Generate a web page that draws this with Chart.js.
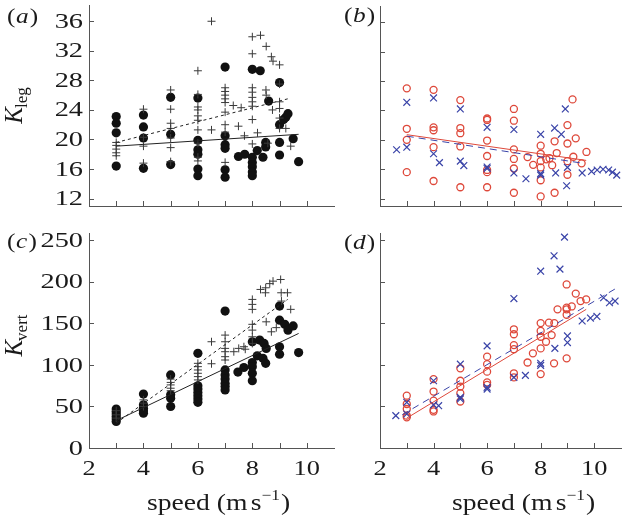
<!DOCTYPE html>
<html>
<head>
<meta charset="utf-8">
<script src="https://cdn.jsdelivr.net/npm/chart.js@4/dist/chart.umd.min.js"></script>
<style>
  body { margin: 0; background: #fff; }
  #wrap { position: relative; width: 627px; height: 517px; }
  #wrap canvas { position: absolute; left: 0; top: 0; }
</style>
</head>
<body>
<div id="wrap">
  <canvas id="panel-a" width="627" height="517"></canvas>
  <canvas id="panel-b" width="627" height="517"></canvas>
  <canvas id="panel-c" width="627" height="517"></canvas>
  <canvas id="panel-d" width="627" height="517"></canvas>
</div>
<script>
// tick values
const speedTicks = [2, 3, 4, 5, 6, 7, 8, 9, 10];
const speedLabels = [2, 4, 6, 8, 10];
const legTicks = [12, 16, 20, 24, 28, 32, 36];
const vertTicks = [0, 50, 100, 150, 200, 250];

// (a) K_leg, filled circles and plus markers
const aDotX = [3,3,3,3, 4,4,4,4, 5,5,5, 6,6,6,6,6,6, 7,7,7,7,7,7, 7.49,7.72, 8,8,8,8,8,8, 8.29,8.18,8.39,8.49,8.49,8.6, 9,9,9,9, 9.15,9.23,9.31, 9.5,9.7];
const aDotY = [23.1,22.2,20.9,16.4, 23.3,21.7,20.2,16.1, 25.7,20.7,16.6, 25.6,19.9,18.6,18.0,16.0,15.1, 29.8,20.5,19.3,18.8,15.9,14.9, 17.7,18.0, 29.5,17.6,16.9,16.3,15.6,15.1, 29.3,18.5,17.6,19.6,19.0,25.2, 27.7,22.0,19.6,17.9, 22.7,23.0,23.5, 20.1,17.0];
const aPlusX = [3,3,3,3,3, 4,4,4,4, 5,5,5,5,5,5,5, 6,6,6,6,6,6,6,6,6,6, 6.5,6.5, 7,7,7,7,7,7,7,7,7, 7.3,7.59,7.49,7.71,8.19, 8,8,8,8,8,8,8,8,8, 8.3,8.51,8.7,8.76,9.0,8.5,8.51,8.74, 9,9,9,9,9, 9.23,9.41,8.57];
const aPlusY = [19.6,19.2,18.7,18.2,17.8, 24.1,20.3,19.1,16.8, 26.7,24.1,22.2,21.5,20.2,18.9,17.0, 29.3,26.1,24.4,24.0,23.2,22.6,21.3,19.5,17.6,17.1, 36.0,21.3, 27.0,26.5,26.0,25.5,25.0,23.7,22.0,21.0,16.9, 24.6,24.3,21.8,20.5,20.9, 33.9,31.6,27.0,26.4,25.7,25.1,24.5,22.7,19.4, 34.1,32.6,31.2,30.6,30.1,26.7,26.0,24.0, 27.5,25.1,24.2,22.9,21.5, 21.5,19.1,19.5];
const aFitDotX = [3, 9.7];
const aFitDotY = [19.1, 20.7];
const aFitPlusX = [3, 9.3];
const aFitPlusY = [19.6, 25.5];

// (b) K_leg, red circles and blue crosses
const bCircX = [3,3,3,3, 4,4,4,4,4, 5,5,5,5,5, 6,6,6,6,6,6,6, 7,7,7,7,7,7, 7.51,7.72, 8,8,8,8,8,8, 8.21,8.33,8.43,8.52,8.52,8.6, 9,9,9,9, 9.19,9.22,9.31,9.53,9.71];
const bCircY = [27.0,21.5,20.0,15.6, 26.8,21.7,21.3,19.0,14.4, 25.4,21.6,20.9,19.1,13.55, 22.9,22.7,19.9,17.8,15.9,15.6,13.55, 24.2,22.6,18.7,17.4,16.1,12.8, 17.65,16.6, 19.2,18.1,17.1,16.25,14.5,12.3, 17.35,17.5,16.55,19.8,12.8,18.2, 22.0,19.5,17.1,15.25, 25.5,17.7,20.2,16.8,18.35];
const bCrossX = [2.62, 3,3, 4,4, 4.22, 5,5, 5.13, 6,6,6, 7,7, 7.45, 8,8,8, 8.52,8.77,8.56,8.92,8.97,9.0, 9.55,9.9,10.11,10.33,10.54,10.68,10.84];
const bCrossY = [18.65, 25.1,19.0, 25.7,18.1, 16.9, 24.2,17.1, 16.5, 21.7,16.3,16.1, 21.4,15.5, 14.7, 20.75,15.4,15.2, 21.6,20.75,15.5,24.2,13.75,16.25, 15.5,15.7,15.9,16.0,15.9,15.6,15.2];
const bFitCircX = [3, 9.7];
const bFitCircY = [20.7, 17.2];
const bFitCrossX = [3, 9.6];
const bFitCrossY = [20.5, 16.8];

// (c) K_vert, filled circles and plus markers
const cDotX = [3,3,3,3,3,3, 4,4,4,4,4, 5,5,5,5, 6,6,6,6,6,6,6, 7,7,7,7,7,7,7, 7.47,7.69, 8,8,8,8,8, 8.27,8.18,8.43,8.51,8.39,8.49, 9,9,9,9, 9.19,9.31,9.5,9.7];
const cDotY = [47,44,41,38,35,32, 65,52,48,45,42, 88,64,60,50, 114,75,71,67,63,59,55, 165,94,88,83,78,74,70, 91.5,97, 128,103,98,90,81, 130,111,126,120,108,102, 171,154,122,113, 149,142,147,115];
const cPlusX = [3,3,3, 4,4,4, 5,5,5,5,5, 6,6,6,6,6,6, 6.5,6.5, 7,7,7,7,7,7, 7.32,7.5,7.69,7.74, 8,8,8,8,8,8,8, 8.3,8.48,8.64,8.76,9.04,8.49,9.06,9.29,9.41,8.88,8.7,8.51,9.07];
const cPlusY = [45,40,36, 58,54,50, 83,79,76,72,69, 102,98,94,90,86,82, 128,101.5, 136,128,120,116,110,106, 116,120,122,119, 179,173,167,149,142,134,126, 191,187,198,201,203,193,187,187,167,145,140,152,177];
const cFitDotX = [3, 9.7];
const cFitDotY = [33, 138];
const cFitPlusX = [3, 9.3];
const cFitPlusY = [30, 179];

// (d) K_vert, red circles and blue crosses
const dCircX = [3,3,3,3,3, 4,4,4,4,4, 5,5,5,5,5, 6,6,6,6,6, 7,7,7,7,7,7, 7.51,7.71, 8,8,8,8,8, 8.2,8.31,8.41,8.51,8.5,8.63, 8.97,8.97,8.97,8.97,8.97, 9.16,9.31,9.49,9.7];
const dCircY = [63,53,47,39,37, 83,68,57,46,44, 96,81,74,66,56, 110,101,92,79,76, 143,137,124,119,90,85, 103,114, 150.5,141,134,120,89, 128,151,136,150.5,102,167, 197,169,167,160.5,108, 170.5,186,177,179];
const dCrossX = [2.59, 3,3, 4,4, 4.19, 5,5,5, 6,6,6, 7,7, 7.43, 8,8,8, 8.5,8.72,8.53,8.89, 9,9, 9.55,9.86,10.1,10.35,10.57,10.78];
const dCrossY = [39, 55,41, 81,52, 51, 101,61,59, 123,73,71, 180,85, 87.5, 213,102,99.5, 231.5,215.5,120,254, 135,127, 153,156.5,158.5,181,175,177];
const dFitCircX = [3, 9.7];
const dFitCircY = [36, 167];
const dFitCrossX = [2.83, 10.8];
const dFitCrossY = [40, 192];

const SERIF = '"Liberation Serif", "Times New Roman", serif';
const RED = 'rgb(222, 72, 58)';
const BLUE = 'rgb(58, 68, 168)';

function pts(xs, ys) {
  return xs.map((x, i) => ({ x: x, y: ys[i] }));
}

function dots(xs, ys) {
  return { data: pts(xs, ys), pointStyle: 'circle', pointRadius: 4.6, backgroundColor: '#111', borderColor: '#111', borderWidth: 0 };
}
function pluses(xs, ys) {
  return { data: pts(xs, ys), pointStyle: 'cross', pointRadius: 4, borderColor: '#3a3a3a', borderWidth: 1 };
}
function rings(xs, ys) {
  return { data: pts(xs, ys), pointStyle: 'circle', pointRadius: 3.5, backgroundColor: 'rgba(0,0,0,0)', borderColor: RED, borderWidth: 1.3 };
}
function crosses(xs, ys) {
  return { data: pts(xs, ys), pointStyle: 'crossRot', pointRadius: 4.8, borderColor: BLUE, borderWidth: 1.2 };
}
function fit(xs, ys, color, dash) {
  return { data: pts(xs, ys), showLine: true, pointRadius: 0, borderColor: color, borderWidth: 1, borderDash: dash };
}

// draws horizontally stretched text (the figure is a bit wider than tall)
function wideText(ctx, text, x, y, font, sx, align, baseline) {
  ctx.save();
  ctx.translate(x, y);
  ctx.scale(sx, 1);
  ctx.font = font;
  ctx.textAlign = align;
  ctx.textBaseline = baseline;
  ctx.fillText(text, 0, 0);
  ctx.restore();
}

function panelLabel(ctx, letter, x, y) {
  ctx.save();
  ctx.translate(x, y);
  ctx.scale(1.15, 1);
  ctx.textBaseline = 'alphabetic';
  ctx.textAlign = 'left';
  ctx.font = '22px ' + SERIF;
  const w = ctx.measureText('(').width;
  ctx.fillText('(', 0, 0);
  ctx.font = 'italic 22px ' + SERIF;
  const w2 = ctx.measureText(letter).width;
  ctx.fillText(letter, w + 0.5, 0);
  ctx.font = '22px ' + SERIF;
  ctx.fillText(')', w + w2 + 1.5, 0);
  ctx.restore();
}

function yTitle(ctx, main, sub, x, cy) {
  ctx.save();
  ctx.translate(x, cy);
  ctx.rotate(-Math.PI / 2);
  ctx.textBaseline = 'alphabetic';
  ctx.textAlign = 'left';
  ctx.font = 'italic 25px ' + SERIF;
  const w1 = ctx.measureText(main).width;
  ctx.font = '17px ' + SERIF;
  const w2 = ctx.measureText(sub).width;
  const start = -(w1 + w2) / 2;
  ctx.font = 'italic 25px ' + SERIF;
  ctx.fillText(main, start, 0);
  ctx.font = '17px ' + SERIF;
  ctx.fillText(sub, start + w1 - 1, 5);
  ctx.restore();
}

function speedTitle(ctx, x, y) {
  ctx.save();
  ctx.translate(x, y);
  ctx.scale(1.15, 1);
  ctx.textBaseline = 'alphabetic';
  ctx.textAlign = 'left';
  let cx = 0;
  ctx.font = '24px ' + SERIF;
  ctx.fillText('speed (m', cx, 0);
  cx += ctx.measureText('speed (m').width + 3;
  ctx.fillText('s', cx, 0);
  cx += ctx.measureText('s').width;
  ctx.font = '15px ' + SERIF;
  ctx.fillText('\u22121', cx, -10);
  cx += ctx.measureText('\u22121').width + 1;
  ctx.font = '24px ' + SERIF;
  ctx.fillText(')', cx, 0);
  ctx.restore();
}

// inward ticks, tick labels and titles, all placed through the chart scales
const decoPlugin = {
  id: 'deco',
  afterDraw(chart, args, opts) {
    const ctx = chart.ctx;
    const xs = chart.scales.x;
    const ys = chart.scales.y;
    const area = chart.chartArea;
    ctx.save();
    ctx.strokeStyle = '#555';
    ctx.lineWidth = 1;
    ctx.beginPath();
    speedTicks.forEach(v => {
      const px = Math.round(xs.getPixelForValue(v)) + 0.5;
      ctx.moveTo(px, area.bottom);
      ctx.lineTo(px, area.bottom - 5);
    });
    opts.yTicks.forEach(v => {
      const py = Math.round(ys.getPixelForValue(v)) + 0.5;
      ctx.moveTo(area.left, py);
      ctx.lineTo(area.left + 5, py);
    });
    ctx.stroke();

    ctx.fillStyle = '#1a1a1a';
    if (opts.yLabels) {
      opts.yTicks.forEach(v => {
        wideText(ctx, String(v), area.left - 6, ys.getPixelForValue(v) + 1, '21px ' + SERIF, 1.35, 'right', 'middle');
      });
    }
    if (opts.xLabels) {
      speedLabels.forEach(v => {
        wideText(ctx, String(v), xs.getPixelForValue(v), area.bottom + 27, '22px ' + SERIF, 1.2, 'center', 'alphabetic');
      });
      speedTitle(ctx, opts.titleX, area.bottom + 62);
    }
    if (opts.yTitle) {
      yTitle(ctx, 'K', opts.yTitle, 22, opts.yTitleY);
    }
    panelLabel(ctx, opts.letter, opts.letterX, opts.letterY);
    ctx.restore();
  }
};

function makePanel(id, cfg) {
  return new Chart(document.getElementById(id), {
    type: 'scatter',
    data: { datasets: cfg.datasets },
    options: {
      responsive: false,
      animation: false,
      events: [],
      layout: { padding: cfg.padding },
      plugins: {
        legend: { display: false },
        tooltip: { enabled: false },
        deco: cfg.deco,
      },
      scales: {
        x: {
          type: 'linear', min: 2, max: 11,
          grid: { display: false },
          border: { color: '#555', width: 1 },
          ticks: { display: false },
          afterFit: s => { s.height = cfg.xHeight; },
        },
        y: {
          type: 'linear', min: cfg.yMin, max: cfg.yMax,
          grid: { display: false },
          border: { color: '#555', width: 1 },
          ticks: { display: false },
          afterFit: s => { s.width = cfg.yWidth; },
        },
      },
    },
    plugins: [decoPlugin],
  });
}

makePanel('panel-a', {
  datasets: [
    fit(aFitDotX, aFitDotY, '#222', []),
    fit(aFitPlusX, aFitPlusY, '#222', [3, 3]),
    pluses(aPlusX, aPlusY),
    dots(aDotX, aDotY),
  ],
  padding: { left: 0, right: 293, top: 0, bottom: 0 },
  yWidth: 89, xHeight: 311, yMin: 11, yMax: 38.2,
  deco: { yTicks: legTicks, yLabels: true, xLabels: false, yTitle: 'leg', yTitleY: 105, letter: 'a', letterX: 7, letterY: 23 },
});

makePanel('panel-b', {
  datasets: [
    fit(bFitCircX, bFitCircY, RED, []),
    fit(bFitCrossX, bFitCrossY, BLUE, [7, 5]),
    crosses(bCrossX, bCrossY),
    rings(bCircX, bCircY),
  ],
  padding: { left: 0, right: 0.5, top: 0, bottom: 0 },
  yWidth: 380, xHeight: 311, yMin: 11, yMax: 38.2,
  deco: { yTicks: legTicks, yLabels: false, xLabels: false, yTitle: null, letter: 'b', letterX: 344, letterY: 22 },
});

makePanel('panel-c', {
  datasets: [
    fit(cFitDotX, cFitDotY, '#222', []),
    fit(cFitPlusX, cFitPlusY, '#222', [3, 3]),
    pluses(cPlusX, cPlusY),
    dots(cDotX, cDotY),
  ],
  padding: { left: 0, right: 293, top: 233, bottom: 0 },
  yWidth: 89, xHeight: 69, yMin: 0, yMax: 259,
  deco: { yTicks: vertTicks, yLabels: true, xLabels: true, titleX: 147, yTitle: 'vert', yTitleY: 335, letter: 'c', letterX: 7, letterY: 248 },
});

makePanel('panel-d', {
  datasets: [
    fit(dFitCircX, dFitCircY, RED, []),
    fit(dFitCrossX, dFitCrossY, BLUE, [7, 5]),
    crosses(dCrossX, dCrossY),
    rings(dCircX, dCircY),
  ],
  padding: { left: 0, right: 0.5, top: 233, bottom: 0 },
  yWidth: 380, xHeight: 69, yMin: 0, yMax: 259,
  deco: { yTicks: vertTicks, yLabels: false, xLabels: true, titleX: 452, yTitle: null, letter: 'd', letterX: 344, letterY: 249 },
});
</script>
</body>
</html>
